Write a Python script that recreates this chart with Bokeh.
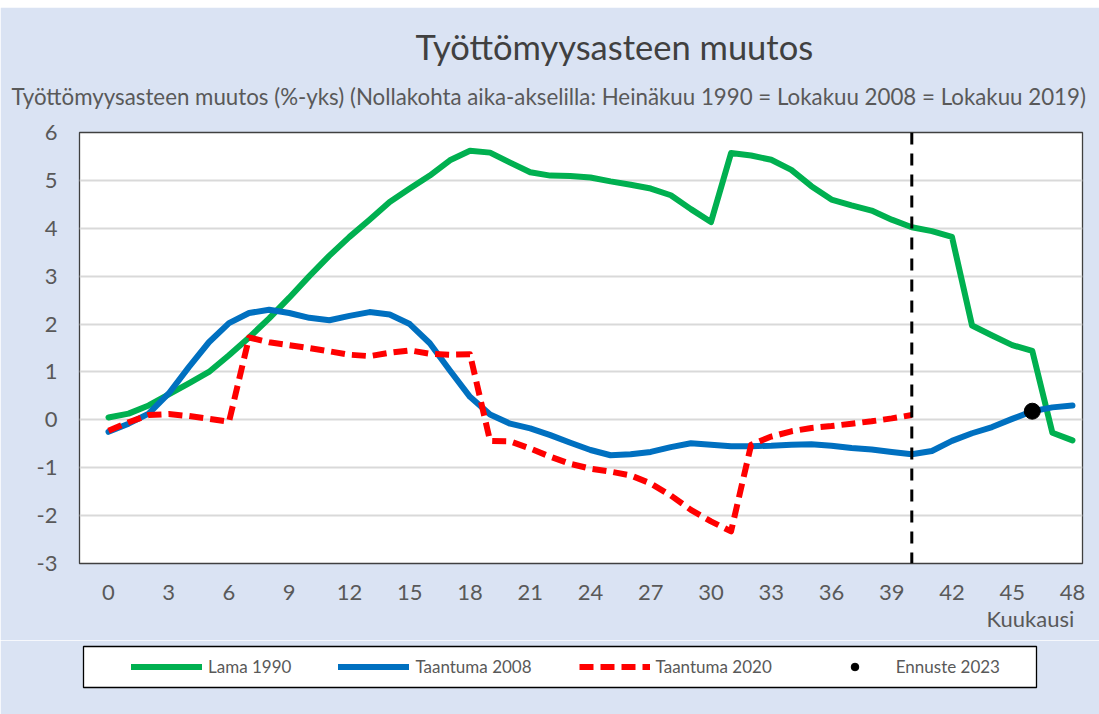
from bokeh.plotting import figure
from bokeh.models import (Range1d, FixedTicker, Span, Legend, LegendItem, Title,
                          PrintfTickFormatter, Spacer)
from bokeh.embed import file_html
from bokeh.resources import INLINE

# ---------------- data ----------------
months = list(range(49))
lama_1990 = [0.05, 0.13, 0.30, 0.53, 0.76, 1.00, 1.35, 1.72, 2.12, 2.55,
             3.00, 3.43, 3.82, 4.18, 4.55, 4.83, 5.10, 5.42, 5.62, 5.58,
             5.37, 5.17, 5.10, 5.09, 5.06, 4.98, 4.91, 4.83, 4.69, 4.40,
             4.13, 5.57, 5.52, 5.43, 5.22, 4.88, 4.60, 4.48, 4.37, 4.18,
             4.02, 3.94, 3.82, 1.97, 1.76, 1.56, 1.44, -0.27, -0.43]
taantuma_2008 = [-0.25, -0.08, 0.13, 0.55, 1.10, 1.62, 2.02, 2.23, 2.30, 2.23,
                 2.13, 2.08, 2.17, 2.25, 2.20, 2.00, 1.60, 1.03, 0.48, 0.11,
                 -0.08, -0.18, -0.32, -0.48, -0.63, -0.74, -0.72, -0.67, -0.57, -0.49,
                 -0.52, -0.55, -0.55, -0.54, -0.52, -0.51, -0.54, -0.59, -0.62, -0.67,
                 -0.72, -0.65, -0.44, -0.28, -0.15, 0.02, 0.18, 0.26, 0.30]
months_2020 = list(range(41))
taantuma_2020 = [-0.23, -0.05, 0.10, 0.12, 0.08, 0.02, -0.04, 1.72, 1.62, 1.56,
                 1.50, 1.43, 1.36, 1.33, 1.40, 1.45, 1.38, 1.36, 1.37, -0.44,
                 -0.45, -0.60, -0.77, -0.92, -1.02, -1.08, -1.16, -1.33, -1.58, -1.88,
                 -2.12, -2.33, -0.52, -0.35, -0.24, -0.17, -0.13, -0.08, -0.03, 0.03,
                 0.10]
ennuste_month = [46]
ennuste_2023 = [0.18]
forecast_start = 40
x_ticks = list(range(0, 49, 3))
y_ticks = list(range(-3, 7))

series_names = ["Lama 1990", "Taantuma 2008", "Taantuma 2020", "Ennuste 2023"]
title_text = "Työttömyysasteen muutos"
subtitle_text = ("Työttömyysasteen muutos (%-yks)  (Nollakohta aika-akselilla: "
                 "Heinäkuu 1990 = Lokakuu 2008 = Lokakuu 2019)")
x_label_text = "Kuukausi"

# ---------------- style ----------------
FONT = "Lato"
BG = "#DAE3F3"
TXT = "#595959"
GREEN = "#00B050"
BLUE = "#0070C0"
RED = "#FF0000"
RED_DASH = "14 7"


def style_lines(fig):
    """Draw the three series on a figure."""
    r1 = fig.line(months, lama_1990, line_color=GREEN, line_width=6,
                  line_join="round", line_cap="round")
    r2 = fig.line(months, taantuma_2008, line_color=BLUE, line_width=6,
                  line_join="round", line_cap="round")
    r3 = fig.line(months_2020, taantuma_2020, line_color=RED, line_width=6,
                  line_dash=RED_DASH, line_join="round")
    return r1, r2, r3


p = figure(width=1099, height=633, output_backend="svg", toolbar_location=None,
           x_range=Range1d(-1.444, 48.5), y_range=Range1d(-3, 6),
           min_border_left=79, min_border_right=17,
           min_border_top=125, min_border_bottom=77)
p.background_fill_color = "white"
p.border_fill_color = BG
p.outline_line_color = "#404040"
p.outline_line_width = 1.3

p.xgrid.grid_line_color = None
p.ygrid.grid_line_color = "#D9D9D9"
p.ygrid.grid_line_width = 2

for ax in (p.xaxis[0], p.yaxis[0]):
    ax.axis_line_color = None
    ax.major_tick_line_color = None
    ax.minor_tick_line_color = None
    ax.major_tick_in = 0
    ax.major_tick_out = 0
    ax.major_label_text_font = FONT
    ax.major_label_text_font_size = "22px"
    ax.major_label_text_color = TXT

p.xaxis.ticker = FixedTicker(ticks=x_ticks)
p.yaxis.ticker = FixedTicker(ticks=y_ticks)
p.yaxis.formatter = PrintfTickFormatter(format="%d")
p.xaxis.formatter = PrintfTickFormatter(format="%d")
p.xaxis.major_label_standoff = 21
p.yaxis.major_label_standoff = 22

# axis name under the last tick labels
p.add_layout(Title(text=x_label_text, align="left", offset=907, standoff=0,
                   text_font=FONT, text_font_size="22px", text_color=TXT,
                   text_font_style="normal"), "below")

style_lines(p)
p.add_layout(Span(location=forecast_start, dimension="height", line_color="black",
                  line_width=3, line_dash="12 9"))
p.scatter(ennuste_month, ennuste_2023, size=16, fill_color="black",
          line_color="black")

# titles (stacked outward from the frame)
p.add_layout(Title(text=subtitle_text, align="left", offset=-68, standoff=46,
                   text_font=FONT, text_font_size="22.3px", text_color=TXT,
                   text_font_style="normal"), "above")
p.add_layout(Title(text=title_text, align="left", offset=336, standoff=-19,
                   text_font=FONT, text_font_size="34.5px", text_color="#404040",
                   text_font_style="normal"), "above")

# ---------------- legend strip ----------------
# The legend strip shows the same series; its view range lies away from the
# data so only the legend swatches are visible.
lg = figure(width=1099, height=74, output_backend="svg", toolbar_location=None,
            x_range=Range1d(1000, 1001), y_range=Range1d(1000, 1001),
            x_axis_location=None, y_axis_location=None,
            min_border_left=83, min_border_right=63,
            min_border_top=6, min_border_bottom=27)
lg.grid.visible = False
lg.background_fill_color = "white"
lg.border_fill_color = BG
lg.outline_line_color = "black"
lg.outline_line_width = 1.3

g1, g2, g3 = style_lines(lg)
g4 = lg.scatter(ennuste_month, ennuste_2023, size=7, fill_color="black",
                line_color="black")

legend = Legend(items=[LegendItem(label=series_names[0], renderers=[g1]),
                       LegendItem(label=series_names[1], renderers=[g2]),
                       LegendItem(label=series_names[2], renderers=[g3]),
                       LegendItem(label=series_names[3], renderers=[g4])],
                location=(48, 10), orientation="horizontal",
                glyph_width=71, glyph_height=19, label_height=19,
                label_standoff=6, label_width=0, spacing=47,
                padding=10, margin=0,
                label_text_font=FONT, label_text_font_size="17px",
                label_text_color=TXT, border_line_color=None,
                background_fill_alpha=0)
lg.add_layout(legend)

top_strip = Spacer(width=1099, height=7)
# separate roots, stacked on the page, so the two frames keep their own borders
open("out.html", "w").write(file_html([top_strip, p, lg], INLINE))
